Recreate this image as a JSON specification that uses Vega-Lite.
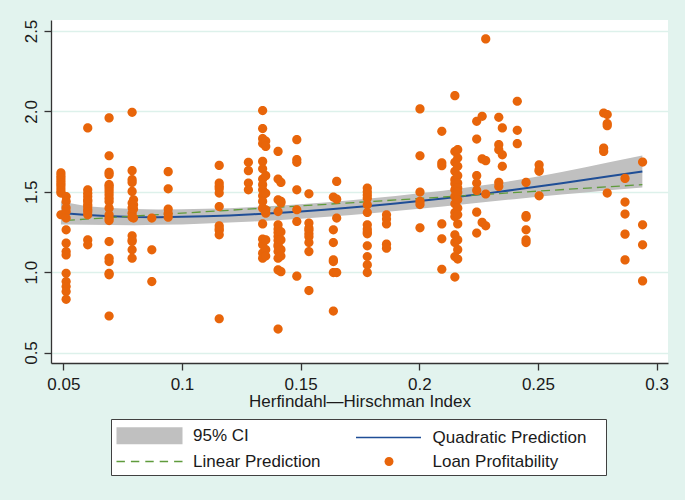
{
  "$schema": "https://vega.github.io/schema/vega-lite/v6.json",
  "width": 617,
  "height": 343,
  "autosize": {"type": "none"},
  "padding": {"left": 51, "top": 20, "right": 17, "bottom": 137},
  "background": "#E2F3EE",
  "config": {
    "font": "Liberation Sans",
    "view": {"fill": "white", "stroke": null},
    "axis": {
      "domainColor": "#333333", "domainWidth": 1.3,
      "tickColor": "#333333", "tickWidth": 1.3, "tickSize": 7,
      "labelFont": "Liberation Sans", "labelFontSize": 17, "labelColor": "#1a1a1a",
      "titleFont": "Liberation Sans", "titleFontSize": 17, "titleFontWeight": "normal", "titleColor": "#1a1a1a",
      "gridColor": "#DDF1EB", "gridWidth": 1.5
    }
  },
  "datasets": {
    "fit": [
      {"x": 0.049, "y": 1.368, "lo": 1.296, "hi": 1.440},
      {"x": 0.06, "y": 1.356, "lo": 1.294, "hi": 1.410},
      {"x": 0.07, "y": 1.348, "lo": 1.293, "hi": 1.399},
      {"x": 0.08, "y": 1.343, "lo": 1.292, "hi": 1.392},
      {"x": 0.09, "y": 1.342, "lo": 1.294, "hi": 1.390},
      {"x": 0.10, "y": 1.344, "lo": 1.297, "hi": 1.391},
      {"x": 0.11, "y": 1.348, "lo": 1.302, "hi": 1.394},
      {"x": 0.12, "y": 1.353, "lo": 1.308, "hi": 1.398},
      {"x": 0.13, "y": 1.360, "lo": 1.315, "hi": 1.405},
      {"x": 0.14, "y": 1.368, "lo": 1.323, "hi": 1.413},
      {"x": 0.15, "y": 1.377, "lo": 1.332, "hi": 1.422},
      {"x": 0.16, "y": 1.388, "lo": 1.343, "hi": 1.433},
      {"x": 0.17, "y": 1.400, "lo": 1.354, "hi": 1.446},
      {"x": 0.18, "y": 1.413, "lo": 1.367, "hi": 1.459},
      {"x": 0.19, "y": 1.427, "lo": 1.380, "hi": 1.474},
      {"x": 0.20, "y": 1.442, "lo": 1.394, "hi": 1.490},
      {"x": 0.21, "y": 1.458, "lo": 1.409, "hi": 1.507},
      {"x": 0.22, "y": 1.475, "lo": 1.424, "hi": 1.526},
      {"x": 0.23, "y": 1.493, "lo": 1.439, "hi": 1.547},
      {"x": 0.24, "y": 1.512, "lo": 1.454, "hi": 1.570},
      {"x": 0.25, "y": 1.532, "lo": 1.469, "hi": 1.595},
      {"x": 0.26, "y": 1.553, "lo": 1.483, "hi": 1.623},
      {"x": 0.27, "y": 1.574, "lo": 1.496, "hi": 1.652},
      {"x": 0.28, "y": 1.596, "lo": 1.509, "hi": 1.683},
      {"x": 0.294, "y": 1.626, "lo": 1.526, "hi": 1.726}
    ],
    "lin": [
      {"x": 0.049, "y": 1.320},
      {"x": 0.10, "y": 1.367},
      {"x": 0.15, "y": 1.412},
      {"x": 0.20, "y": 1.458},
      {"x": 0.25, "y": 1.504},
      {"x": 0.294, "y": 1.544}
    ],
    "pts": [
      {"x":0.049,"y":1.617},{"x":0.049,"y":1.600},{"x":0.049,"y":1.585},{"x":0.049,"y":1.570},{"x":0.049,"y":1.554},{"x":0.049,"y":1.540},{"x":0.049,"y":1.523},{"x":0.049,"y":1.505},{"x":0.049,"y":1.492},{"x":0.049,"y":1.357},
      {"x":0.0512,"y":1.470},{"x":0.0512,"y":1.440},{"x":0.0512,"y":1.400},{"x":0.0512,"y":1.377},{"x":0.0512,"y":1.336},{"x":0.0512,"y":1.263},{"x":0.0512,"y":1.180},{"x":0.0512,"y":1.128},{"x":0.0512,"y":1.107},{"x":0.0512,"y":0.993},{"x":0.0512,"y":0.941},{"x":0.0512,"y":0.910},{"x":0.0512,"y":0.879},{"x":0.0512,"y":0.831},
      {"x":0.0603,"y":1.897},{"x":0.0603,"y":1.512},{"x":0.0603,"y":1.490},{"x":0.0603,"y":1.471},{"x":0.0603,"y":1.450},{"x":0.0603,"y":1.440},{"x":0.0603,"y":1.420},{"x":0.0603,"y":1.408},{"x":0.0603,"y":1.390},{"x":0.0603,"y":1.377},{"x":0.0603,"y":1.357},{"x":0.0603,"y":1.200},{"x":0.0603,"y":1.170},
      {"x":0.0693,"y":1.959},{"x":0.0693,"y":1.724},{"x":0.0693,"y":1.620},{"x":0.0693,"y":1.606},{"x":0.0693,"y":1.544},{"x":0.0693,"y":1.533},{"x":0.0693,"y":1.517},{"x":0.0693,"y":1.500},{"x":0.0693,"y":1.481},{"x":0.0693,"y":1.460},{"x":0.0693,"y":1.440},{"x":0.0693,"y":1.398},{"x":0.0693,"y":1.357},{"x":0.0693,"y":1.336},{"x":0.0693,"y":1.321},{"x":0.0693,"y":1.190},{"x":0.0693,"y":1.087},{"x":0.0693,"y":1.066},{"x":0.0693,"y":0.993},{"x":0.0693,"y":0.983},{"x":0.0693,"y":0.727},
      {"x":0.079,"y":1.994},{"x":0.079,"y":1.631},{"x":0.079,"y":1.575},{"x":0.079,"y":1.558},{"x":0.079,"y":1.502},{"x":0.0796,"y":1.450},{"x":0.079,"y":1.430},{"x":0.0796,"y":1.419},{"x":0.079,"y":1.400},{"x":0.0796,"y":1.392},{"x":0.079,"y":1.367},{"x":0.079,"y":1.342},{"x":0.0796,"y":1.336},{"x":0.079,"y":1.226},{"x":0.079,"y":1.200},{"x":0.079,"y":1.190},{"x":0.079,"y":1.139},{"x":0.079,"y":1.087},
      {"x":0.0873,"y":1.336},{"x":0.0873,"y":1.139},{"x":0.0873,"y":0.941},
      {"x":0.0942,"y":1.625},{"x":0.0942,"y":1.518},{"x":0.0942,"y":1.392},{"x":0.0942,"y":1.365},{"x":0.0942,"y":1.342},
      {"x":0.1157,"y":1.664},{"x":0.1157,"y":1.554},{"x":0.1157,"y":1.535},{"x":0.1157,"y":1.519},{"x":0.1157,"y":1.492},{"x":0.1157,"y":1.408},{"x":0.1157,"y":1.288},{"x":0.1157,"y":1.270},{"x":0.1157,"y":1.259},{"x":0.1157,"y":1.232},{"x":0.1157,"y":0.710},
      {"x":0.128,"y":1.683},{"x":0.128,"y":1.631},{"x":0.128,"y":1.554},{"x":0.128,"y":1.512},
      {"x":0.134,"y":2.005},{"x":0.134,"y":1.893},{"x":0.134,"y":1.830},{"x":0.134,"y":1.800},{"x":0.134,"y":1.689},{"x":0.134,"y":1.643},{"x":0.134,"y":1.579},{"x":0.134,"y":1.544},{"x":0.134,"y":1.512},{"x":0.134,"y":1.475},{"x":0.134,"y":1.440},{"x":0.134,"y":1.398},{"x":0.134,"y":1.300},{"x":0.134,"y":1.205},{"x":0.134,"y":1.170},{"x":0.134,"y":1.118},{"x":0.134,"y":1.087},
      {"x":0.1353,"y":1.815},{"x":0.1353,"y":1.782},{"x":0.1353,"y":1.600},{"x":0.1353,"y":1.490},{"x":0.1353,"y":1.388},{"x":0.1353,"y":1.367},{"x":0.1353,"y":1.200},{"x":0.1353,"y":1.140},{"x":0.1353,"y":1.100},
      {"x":0.1405,"y":1.751},{"x":0.1405,"y":1.579},{"x":0.1405,"y":1.450},{"x":0.1405,"y":1.377},{"x":0.1405,"y":1.294},{"x":0.1405,"y":1.268},{"x":0.1405,"y":1.246},{"x":0.1405,"y":1.222},{"x":0.1405,"y":1.197},{"x":0.1405,"y":1.170},{"x":0.1405,"y":1.159},{"x":0.1405,"y":1.128},{"x":0.1405,"y":1.087},{"x":0.1405,"y":1.014},{"x":0.1405,"y":0.646},
      {"x":0.1417,"y":1.558},{"x":0.1417,"y":1.440},{"x":0.1417,"y":1.430},{"x":0.1417,"y":1.250},{"x":0.1417,"y":1.200},{"x":0.1417,"y":1.140},{"x":0.1417,"y":1.100},{"x":0.1417,"y":1.003},
      {"x":0.1484,"y":1.824},{"x":0.1484,"y":1.700},{"x":0.1484,"y":1.683},{"x":0.1484,"y":1.512},{"x":0.1484,"y":1.388},{"x":0.1484,"y":1.315},{"x":0.1484,"y":0.975},
      {"x":0.1535,"y":1.487},{"x":0.1535,"y":1.305},{"x":0.1535,"y":1.274},{"x":0.1535,"y":1.260},{"x":0.1535,"y":1.238},{"x":0.1535,"y":1.220},{"x":0.1535,"y":1.184},{"x":0.1535,"y":1.128},{"x":0.1535,"y":0.885},
      {"x":0.1638,"y":1.467},{"x":0.1638,"y":1.263},{"x":0.1638,"y":1.184},{"x":0.1638,"y":1.076},{"x":0.1638,"y":1.066},{"x":0.1638,"y":0.997},{"x":0.1638,"y":0.758},
      {"x":0.1652,"y":1.564},{"x":0.1652,"y":1.454},{"x":0.1652,"y":1.336},{"x":0.1652,"y":0.997},
      {"x":0.1781,"y":1.523},{"x":0.1781,"y":1.500},{"x":0.1781,"y":1.480},{"x":0.1781,"y":1.460},{"x":0.1781,"y":1.419},{"x":0.1781,"y":1.371},{"x":0.1781,"y":1.294},{"x":0.1781,"y":1.268},{"x":0.1781,"y":1.250},{"x":0.1781,"y":1.238},{"x":0.1781,"y":1.164},{"x":0.1781,"y":1.097},{"x":0.1781,"y":1.045},{"x":0.1781,"y":0.997},
      {"x":0.1862,"y":1.357},{"x":0.1862,"y":1.330},{"x":0.1862,"y":1.300},{"x":0.1862,"y":1.174},{"x":0.1862,"y":1.149},
      {"x":0.2003,"y":2.015},{"x":0.2003,"y":1.724},{"x":0.2003,"y":1.498},{"x":0.2003,"y":1.440},{"x":0.2003,"y":1.420},{"x":0.2003,"y":1.276},
      {"x":0.2095,"y":1.876},{"x":0.2095,"y":1.679},{"x":0.2095,"y":1.662},{"x":0.2095,"y":1.300},{"x":0.2095,"y":1.207},{"x":0.2095,"y":1.018},
      {"x":0.215,"y":2.098},{"x":0.215,"y":1.750},{"x":0.215,"y":1.683},{"x":0.215,"y":1.627},{"x":0.215,"y":1.575},{"x":0.215,"y":1.550},{"x":0.215,"y":1.512},{"x":0.215,"y":1.471},{"x":0.215,"y":1.425},{"x":0.215,"y":1.371},{"x":0.215,"y":1.346},{"x":0.215,"y":1.232},{"x":0.215,"y":1.185},{"x":0.215,"y":1.097},{"x":0.215,"y":0.969},
      {"x":0.2162,"y":1.762},{"x":0.2162,"y":1.710},{"x":0.2162,"y":1.658},{"x":0.2162,"y":1.600},{"x":0.2162,"y":1.554},{"x":0.2162,"y":1.523},{"x":0.2162,"y":1.496},{"x":0.2162,"y":1.450},{"x":0.2162,"y":1.398},{"x":0.2162,"y":1.357},{"x":0.2162,"y":1.300},{"x":0.2162,"y":1.200},{"x":0.2162,"y":1.140},{"x":0.2162,"y":1.081},
      {"x":0.2242,"y":1.938},{"x":0.2242,"y":1.828},{"x":0.2242,"y":1.600},{"x":0.2242,"y":1.554},{"x":0.2242,"y":1.508},{"x":0.2242,"y":1.373},{"x":0.2242,"y":1.243},
      {"x":0.2265,"y":1.969},{"x":0.2265,"y":1.704},{"x":0.2265,"y":1.309},
      {"x":0.228,"y":2.451},{"x":0.228,"y":1.693},{"x":0.228,"y":1.486},{"x":0.228,"y":1.288},
      {"x":0.2335,"y":1.963},{"x":0.2335,"y":1.793},{"x":0.2335,"y":1.762},{"x":0.2335,"y":1.558},{"x":0.2335,"y":1.533},
      {"x":0.235,"y":1.897},{"x":0.235,"y":1.730},{"x":0.235,"y":1.658},
      {"x":0.2413,"y":2.063},{"x":0.2413,"y":1.882},{"x":0.2413,"y":1.799},
      {"x":0.245,"y":1.558},{"x":0.245,"y":1.352},{"x":0.245,"y":1.342},{"x":0.245,"y":1.263},{"x":0.245,"y":1.200},{"x":0.245,"y":1.184},
      {"x":0.2505,"y":1.668},{"x":0.2505,"y":1.637},{"x":0.2505,"y":1.627},{"x":0.2505,"y":1.475},
      {"x":0.2777,"y":1.990},{"x":0.2777,"y":1.772},{"x":0.2777,"y":1.751},
      {"x":0.2792,"y":1.980},{"x":0.2792,"y":1.924},{"x":0.2792,"y":1.911},{"x":0.2792,"y":1.492},
      {"x":0.2867,"y":1.583},{"x":0.2867,"y":1.436},{"x":0.2867,"y":1.361},{"x":0.2867,"y":1.236},{"x":0.2867,"y":1.076},
      {"x":0.2941,"y":1.685},{"x":0.2941,"y":1.294},{"x":0.2941,"y":1.170},{"x":0.2941,"y":0.945}
    ]
  },
  "encoding": {
    "x": {
      "field": "x", "type": "quantitative",
      "scale": {"domain": [0.04482, 0.30481], "nice": false, "zero": false},
      "axis": {
        "values": [0.05, 0.1, 0.15, 0.2, 0.25, 0.3], "format": "~g",
        "title": "Herfindahl—Hirschman Index", "grid": false,
        "labelPadding": 6, "titlePadding": 1, "labelFlush": false, "labelOverlap": false
      }
    },
    "y": {
      "field": "y", "type": "quantitative",
      "scale": {"domain": [0.4347, 2.5685], "nice": false, "zero": false},
      "axis": {
        "values": [0.5, 1, 1.5, 2, 2.5], "format": ".1f", "title": null, "grid": true,
        "labelAngle": 270, "labelAlign": "center", "labelBaseline": "alphabetic",
        "labelPadding": 7.5, "labelOverlap": false
      }
    }
  },
  "layer": [
    {
      "data": {"name": "fit"},
      "mark": {"type": "area", "color": "#C0C0C0", "opacity": 1},
      "encoding": {
        "y": {
          "field": "lo", "type": "quantitative",
          "scale": {"domain": [0.4347, 2.5685], "nice": false, "zero": false},
          "axis": {
            "values": [0.5, 1, 1.5, 2, 2.5], "format": ".1f", "title": null, "grid": true,
            "labelAngle": 270, "labelAlign": "center", "labelBaseline": "alphabetic",
            "labelPadding": 7.5, "labelOverlap": false
          }
        },
        "y2": {"field": "hi"}
      }
    },
    {
      "data": {"name": "fit"},
      "mark": {"type": "line", "color": "#1F4E96", "strokeWidth": 2}
    },
    {
      "data": {"name": "lin"},
      "mark": {"type": "line", "color": "#5F9B3C", "strokeWidth": 1.3, "strokeDash": [9, 5], "strokeDashOffset": 9}
    },
    {
      "data": {"name": "pts"},
      "mark": {"type": "point", "filled": true, "size": 420, "opacity": 1, "strokeWidth": 1.6},
      "encoding": {
        "color": {
          "datum": "Loan Profitability", "type": "nominal",
          "scale": {
            "domain": ["95% CI", "Linear Prediction", "Quadratic Prediction", "Loan Profitability"],
            "range": ["#C0C0C0", "#5F9B3C", "#1F4E96", "#E8650A"]
          },
          "legend": {
            "orient": "none", "legendX": 60, "legendY": 399, "title": null,
            "columns": 2, "columnPadding": 30.5, "rowPadding": 3, "padding": 5.5,
            "strokeColor": "#404040", "fillColor": "white",
            "symbolSize": 400, "symbolStrokeWidth": 1.6, "symbolOffset": 22,
            "labelFont": "Liberation Sans", "labelFontSize": 17, "labelColor": "#1a1a1a",
            "labelOffset": 32.5, "labelLimit": 400, "symbolOpacity": 1
          }
        },
        "stroke": {
          "datum": "Loan Profitability", "type": "nominal",
          "scale": {
            "domain": ["95% CI", "Linear Prediction", "Quadratic Prediction", "Loan Profitability"],
            "range": ["transparent", "#5F9B3C", "#1F4E96", "transparent"]
          }
        },
        "shape": {
          "datum": "Loan Profitability", "type": "nominal",
          "scale": {
            "domain": ["95% CI", "Linear Prediction", "Quadratic Prediction", "Loan Profitability"],
            "range": [
              "M-3.3,-0.85H3.3V0.85H-3.3Z",
              "M-3.3,0H-2.46M-1.86,0H-1.02M-0.42,0H0.42M1.02,0H1.86M2.46,0H3.3",
              "M-3.3,0H3.2M20.8,0",
              "M0.45,0C0.45,0.2485,0.2485,0.45,0,0.45C-0.2485,0.45,-0.45,0.2485,-0.45,0C-0.45,-0.2485,-0.2485,-0.45,0,-0.45C0.2485,-0.45,0.45,-0.2485,0.45,0ZM20.8,0"
            ]
          }
        }
      }
    }
  ]
}
